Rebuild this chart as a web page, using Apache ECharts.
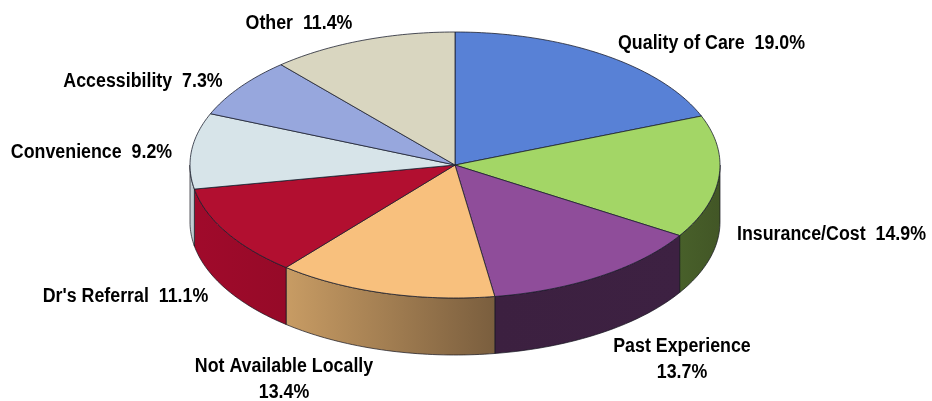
<!DOCTYPE html>
<html>
<head>
<meta charset="utf-8">
<style>html,body{margin:0;padding:0;background:#fff}#c{width:932px;height:401px}</style>
<script src="https://cdn.jsdelivr.net/npm/echarts@6/dist/echarts.min.js"></script>
</head>
<body>
<div id="c"></div>
<script>
var categories = ["Quality of Care","Insurance/Cost","Past Experience","Not Available Locally","Dr's Referral","Convenience","Accessibility","Other"];
var shares = [19.0,14.9,13.7,13.4,11.1,9.2,7.3,11.4];
var topColors = ["#5881d6","#a3d666","#8f4d9a","#f8c07d","#b20f30","#d7e4e9","#97a7dd","#d9d6c0"];
var wallStart = ["#5881d6","#48602a","#3c2040","#c89c64","#a00a2b","#c8d3d8","#97a7dd","#d9d6c0"];
var wallEnd   = ["#5881d6","#425626","#3d2142","#7a5e3e","#960a28","#bcc7cc","#97a7dd","#d9d6c0"];

var PIE = {cx:455, cy:165, rx:265, ry:133, depth:57};
var total = shares.reduce(function(a,b){return a+b;},0);
var starts = [];
shares.reduce(function(acc,v,i){starts[i]=acc;return acc+v;},0);
function rad(pct){return pct/total*2*Math.PI;}
function rim(a,dy){return [PIE.cx+PIE.rx*Math.sin(a), PIE.cy-PIE.ry*Math.cos(a)+(dy||0)];}
function arc(a0,a1,dy){
  var n=Math.max(2,Math.ceil((a1-a0)/0.02)),pts=[];
  for(var i=0;i<=n;i++){pts.push(rim(a0+(a1-a0)*i/n,dy));}
  return pts;
}
function topItem(params,api){
  var i=api.value(1), a0=rad(starts[i]), a1=a0+rad(api.value(0));
  return {type:'polygon',shape:{points:[[PIE.cx,PIE.cy]].concat(arc(a0,a1,0))},
    style:{fill:topColors[i],stroke:'rgba(25,30,45,0.78)',lineWidth:1,lineJoin:'round'}};
}
function wallItem(params,api){
  var i=api.value(1), a0=rad(starts[i]), a1=a0+rad(api.value(0));
  var lo=Math.max(a0,Math.PI/2), hi=Math.min(a1,Math.PI*1.5);
  if(hi<=lo){return {type:'group',children:[]};}
  var upper=arc(lo,hi,0), lower=arc(lo,hi,PIE.depth).reverse();
  return {type:'polygon',shape:{points:upper.concat(lower)},
    style:{fill:{type:'linear',x:0,y:0,x2:1,y2:0,colorStops:[{offset:0,color:wallStart[i]},{offset:1,color:wallEnd[i]}]},
    stroke:'rgba(20,20,30,0.7)',lineWidth:1,lineJoin:'round'}};
}
var pieData=shares.map(function(v,i){return [v,i];});
function pct(i){return shares[i].toFixed(1)+'%';}
var labelFont={font:'bold 20px "Liberation Sans", Arial, sans-serif',fill:'#000',textAlign:'center',textVerticalAlign:'middle'};
var labelSpots=[
 {i:0,x:711.5,y:43,lines:1},{i:1,x:831.5,y:234,lines:1},{i:2,x:682,y:359,lines:2},{i:3,x:284,y:379,lines:2},
 {i:4,x:125.5,y:296,lines:1},{i:5,x:91.5,y:152,lines:1},{i:6,x:143,y:81,lines:1},{i:7,x:299,y:23,lines:1}];
var labels=labelSpots.map(function(s){
  var text=s.lines===2?categories[s.i]+'\n'+pct(s.i):categories[s.i]+'  '+pct(s.i);
  return {type:'text',x:s.x,y:s.y,scaleX:0.89,silent:true,style:Object.assign({text:text,lineHeight:26},labelFont)};
});
var chart=echarts.init(document.getElementById('c'),null,{renderer:'canvas'});
chart.setOption({
  animation:false,backgroundColor:'#fff',
  graphic:{elements:labels},
  series:[
    {type:'custom',coordinateSystem:'none',data:pieData,renderItem:wallItem,silent:true,z:1},
    {type:'custom',coordinateSystem:'none',data:pieData,renderItem:topItem,silent:true,z:2}
  ]
});
</script>
</body>
</html>
